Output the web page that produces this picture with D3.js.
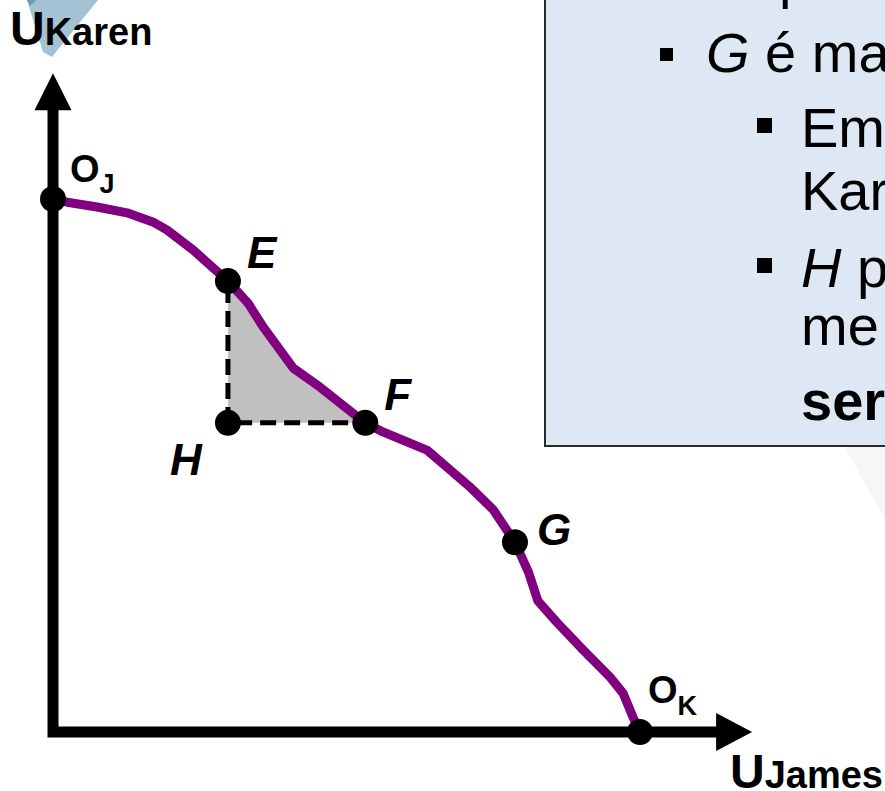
<!DOCTYPE html>
<html>
<head>
<meta charset="utf-8">
<script src="https://cdn.jsdelivr.net/npm/d3@7/dist/d3.min.js"></script>
<style>
  html, body { margin: 0; padding: 0; background: #ffffff; }
  svg { display: block; }
  text { font-family: "Liberation Sans", Arial, sans-serif; }
</style>
</head>
<body>
<svg id="chart" width="885" height="791"></svg>
<script>
// ---------- data ----------
// utility possibilities frontier (U James, U Karen)
const uJames = [0, 2.4, 7.5, 12.6, 17.0, 19.4, 23.9, 29.8, 33.2, 35.8, 40.9, 45.5, 51.1, 53.2,
                56.2, 63.7, 67.1, 71.0, 75.0, 78.7, 81.0, 82.6, 85.9, 90.3, 94.9, 97.1, 98.8, 100];
const uKaren = [100, 99.4, 98.5, 97.4, 95.7, 94.2, 90.4, 84.6, 80.5, 76.0, 68.3, 64.7, 59.8, 58.0,
                56.3, 52.9, 49.7, 46.0, 41.7, 35.6, 30.0, 24.6, 20.5, 15.4, 10.3, 7.3, 2.8, 0];
// labelled points
const pointNames = ["O", "E", "F", "G", "O", "H"];
const pointSubs  = ["J", "", "", "", "K", ""];
const pointX     = [0, 29.8, 53.2, 78.7, 100, 29.8];
const pointY     = [100, 84.6, 58.0, 35.6, 0, 58.0];
// axis extents (data units) and titles
const axisXMax = 119.1;
const axisYMax = 123.6;
const axisTitleX = ["U", "James"];
const axisTitleY = ["U", "Karen"];
// text box lines (partially visible)
const boxLines = [
  { level: 0, parts: [["p", "n"]], top: true },
  { level: 1, bullet: true, parts: [["G", "i"], [" é mais eficiente que H?", "n"]] },
  { level: 2, bullet: true, parts: [["Em G, James está melhor e", "n"]] },
  { level: 2, bullet: false, parts: [["Karen pior do que em H.", "n"]] },
  { level: 2, bullet: true, parts: [["H", "i"], [" pode ser preferível a G,", "n"]] },
  { level: 2, bullet: false, parts: [["me", "n"], [" ", "n"], ["sendo ineficiente, por", "n"]] },
  { level: 2, bullet: false, parts: [["ser mais equitativo.", "b"]] }
];
const boxBaselines = [-3, 72, 147, 210, 287, 345, 420];

// ---------- scales ----------
const svg = d3.select("#chart");
const x = d3.scaleLinear().domain([0, 100]).range([53, 640]);
const y = d3.scaleLinear().domain([0, 100]).range([732, 199]);

// ---------- watermark fragments ----------
svg.append("polygon")
  .attr("points", "27,0 98,0 52,57 43,52")
  .attr("fill", "#93b7cb").attr("opacity", 0.85);
svg.append("polygon")
  .attr("points", "27,0 36,0 30,6")
  .attr("fill", "#6f9ab3");
svg.append("polygon")
  .attr("points", "845,447 885,447 885,520")
  .attr("fill", "#f6f6f6");

// ---------- text box ----------
svg.append("rect")
  .attr("x", 545).attr("y", -10).attr("width", 360).attr("height", 456)
  .attr("fill", "#dde8f4").attr("stroke", "#2a2a2a").attr("stroke-width", 2);

const boxG = svg.append("g");
boxLines.forEach((ln, i) => {
  const base = boxBaselines[i];
  const bx = ln.level === 1 ? 660 : 757;
  const tx = ln.top ? 779 : (ln.level === 1 ? 706 : 801);
  if (ln.bullet) {
    const s = ln.level === 1 ? 13 : 15;
    boxG.append("rect")
      .attr("x", bx).attr("y", base - (ln.level === 1 ? 24 : 29))
      .attr("width", s).attr("height", s).attr("fill", "#000");
  }
  const t = boxG.append("text").attr("x", tx).attr("y", base)
    .attr("font-size", 56).attr("fill", "#000");
  ln.parts.forEach(p => {
    t.append("tspan").text(p[0])
      .attr("font-style", p[1] === "i" ? "italic" : "normal")
      .attr("font-weight", p[1] === "b" ? "bold" : "normal");
  });
});

// ---------- shaded region E-F-H ----------
const iE = uJames.indexOf(pointX[1]);
const iF = uJames.indexOf(pointX[2]);
const shade = [];
for (let i = iE; i <= iF; i++) shade.push([x(uJames[i]), y(uKaren[i])]);
shade.push([x(pointX[5]), y(pointY[5])]);
svg.append("polygon")
  .attr("points", shade.map(p => p.join(",")).join(" "))
  .attr("fill", "#c0c0c0");

// dashed lines E-H and H-F
svg.append("path")
  .attr("d", d3.line()([[x(pointX[1]), y(pointY[1])], [x(pointX[5]), y(pointY[5])], [x(pointX[2]), y(pointY[2])]]))
  .attr("fill", "none").attr("stroke", "#000").attr("stroke-width", 5)
  .attr("stroke-dasharray", "16,8").attr("stroke-dashoffset", -6);

// ---------- axes ----------
const ax = svg.append("g");
ax.append("path")
  .attr("d", `M${x(0)},${y(axisYMax) + 20} V${y(0)} H${x(axisXMax) - 20}`)
  .attr("fill", "none").attr("stroke", "#000").attr("stroke-width", 11)
  .attr("stroke-linejoin", "miter").attr("stroke-linecap", "butt");
// arrowheads
const tipY = [x(0), y(axisYMax)];
ax.append("polygon")
  .attr("points", `${tipY[0]},${tipY[1]} ${tipY[0] - 18.5},${tipY[1] + 37} ${tipY[0] + 18.5},${tipY[1] + 37}`)
  .attr("fill", "#000");
const tipX = [x(axisXMax), y(0)];
ax.append("polygon")
  .attr("points", `${tipX[0]},${tipX[1]} ${tipX[0] - 36},${tipX[1] - 19} ${tipX[0] - 36},${tipX[1] + 19}`)
  .attr("fill", "#000");

// axis titles
const ty = svg.append("text").attr("x", 10).attr("y", 45).attr("font-weight", "bold").attr("fill", "#000");
ty.append("tspan").attr("font-size", 48).text(axisTitleY[0]);
ty.append("tspan").attr("font-size", 38).text(axisTitleY[1]);
const tx = svg.append("text").attr("x", 730).attr("y", 788).attr("font-weight", "bold").attr("fill", "#000");
tx.append("tspan").attr("font-size", 48).text(axisTitleX[0]);
tx.append("tspan").attr("font-size", 38).text(axisTitleX[1]);

// ---------- frontier curve ----------
const curve = uJames.map((v, i) => [x(v), y(uKaren[i])]);
svg.append("path")
  .attr("d", d3.line().curve(d3.curveLinear)(curve))
  .attr("fill", "none").attr("stroke", "#800080").attr("stroke-width", 9)
  .attr("stroke-linejoin", "round").attr("stroke-linecap", "round");

// ---------- points ----------
svg.append("g").selectAll("circle")
  .data(pointX.map((v, i) => ({ x: v, y: pointY[i] })))
  .join("circle")
  .attr("cx", d => x(d.x)).attr("cy", d => y(d.y)).attr("r", 13)
  .attr("fill", "#000");

// ---------- point labels ----------
const labelOffsets = [[17, -17], [19, -13], [19, -13], [22, 3], [8, -29], [-58, 52]];
pointNames.forEach((nm, i) => {
  const px = x(pointX[i]) + labelOffsets[i][0];
  const py = y(pointY[i]) + labelOffsets[i][1];
  if (pointSubs[i]) {
    const t = svg.append("text").attr("x", px).attr("y", py)
      .attr("font-weight", "bold").attr("fill", "#000");
    t.append("tspan").attr("font-size", 38).text(nm);
    t.append("tspan").attr("font-size", 27).attr("dy", pointSubs[i] === "J" ? 11 : 12).text(pointSubs[i]);
  } else {
    svg.append("text").attr("x", px).attr("y", py)
      .attr("font-size", 44).attr("font-weight", "bold").attr("font-style", "italic")
      .attr("fill", "#000").text(nm);
  }
});
</script>
</body>
</html>
